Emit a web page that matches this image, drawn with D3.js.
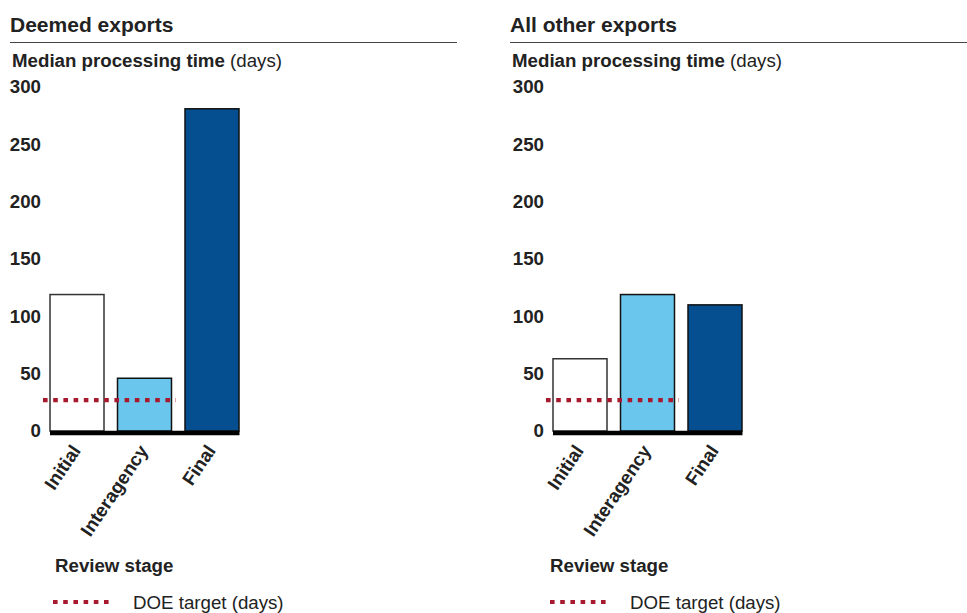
<!DOCTYPE html>
<html>
<head>
<meta charset="utf-8">
<script src="https://cdn.jsdelivr.net/npm/d3@7"></script>
<style>
  html, body { margin: 0; padding: 0; background: #fff; }
  svg { display: block; font-family: "Liberation Sans", Arial, sans-serif; }
</style>
</head>
<body>
<svg id="chart" width="967" height="613"></svg>
<script>
// Review stages and median processing times (days)
const stages = ["Initial", "Interagency", "Final"];
const panelTitles = ["Deemed exports", "All other exports"];
const deemedDays = [119, 46, 281];
const otherDays = [63, 119, 110];
const doeTargetDays = [27, 27];
const yTicks = [0, 50, 100, 150, 200, 250, 300];
const stageColors = ["#ffffff", "#6ac6ec", "#054f91"];
const stageStrokes = ["#333333", "#111111", "#111111"];

const svg = d3.select("#chart");
const textColor = "#222222";
const targetColor = "#a6192e";
const fs = 18.7;

const y = d3.scaleLinear().domain([0, 300]).range([431, 87]);

const panels = [
  { title: panelTitles[0], values: deemedDays, target: doeTargetDays[0], dx: 0, shift: 0, ruleEnd: 457 },
  { title: panelTitles[1], values: otherDays, target: doeTargetDays[1], dx: 500, shift: 3, ruleEnd: 467 }
];

panels.forEach(p => {
  const g = svg.append("g").attr("transform", `translate(${p.dx},0)`);
  const x = d3.scaleBand().domain(stages)
    .range([50 + p.shift, 239 + p.shift]).paddingInner(0.2).paddingOuter(0);

  // Panel heading and rule
  g.append("text").attr("x", 10).attr("y", 32)
    .attr("font-size", 21).attr("font-weight", "bold").attr("fill", textColor)
    .text(p.title);
  g.append("line").attr("x1", 10).attr("x2", p.ruleEnd)
    .attr("y1", 42.5).attr("y2", 42.5).attr("stroke", "#444").attr("stroke-width", 1.2);

  // Axis title
  const at = g.append("text").attr("x", 12).attr("y", 67)
    .attr("font-size", fs).attr("fill", textColor);
  at.append("tspan").attr("font-weight", "bold").text("Median processing time");
  at.append("tspan").text(" (days)");

  // Y axis labels (no axis line)
  const yAxis = d3.axisLeft(y).tickValues(yTicks).tickSize(0).tickPadding(0);
  const ya = g.append("g").attr("transform", `translate(${41 + p.shift},0)`).call(yAxis);
  ya.select(".domain").remove();
  ya.selectAll("text").attr("font-size", fs).attr("font-weight", "bold")
    .attr("fill", textColor).attr("font-family", "Liberation Sans, Arial, sans-serif");

  // Bars
  g.selectAll("rect.bar").data(p.values).enter().append("rect")
    .attr("class", "bar")
    .attr("x", (d, i) => x(stages[i]))
    .attr("y", d => y(d))
    .attr("width", x.bandwidth())
    .attr("height", d => y(0) - y(d))
    .attr("fill", (d, i) => stageColors[i])
    .attr("stroke", (d, i) => stageStrokes[i])
    .attr("stroke-width", 1.5);

  // Baseline
  g.append("line").attr("x1", 50 + p.shift).attr("x2", 239.5 + p.shift)
    .attr("y1", y(0) + 2).attr("y2", y(0) + 2)
    .attr("stroke", "#000").attr("stroke-width", 4.5);

  // DOE target line
  g.append("line").attr("x1", 43 + p.shift).attr("x2", 176 + p.shift)
    .attr("y1", y(p.target)).attr("y2", y(p.target))
    .attr("stroke", targetColor).attr("stroke-width", 4.2)
    .attr("stroke-dasharray", "4.6,5.6");

  // X axis labels, rotated
  const xAxis = d3.axisBottom(x).tickSize(0).tickPadding(0);
  const xa = g.append("g").attr("transform", `translate(-1,${y(0) + 16})`).call(xAxis);
  xa.select(".domain").remove();
  xa.selectAll("text")
    .attr("font-size", fs).attr("font-weight", "bold").attr("fill", textColor)
    .attr("font-family", "Liberation Sans, Arial, sans-serif")
    .attr("text-anchor", "end").attr("dy", "0.35em").attr("y", 0)
    .attr("transform", "rotate(-56)");

  // Legend
  g.append("text").attr("x", 55 + p.shift - (p.shift ? 8 : 0)).attr("y", 572)
    .attr("font-size", fs).attr("font-weight", "bold").attr("fill", textColor)
    .text("Review stage");
  g.append("line").attr("x1", 53 + (p.shift ? -3 : 0)).attr("x2", 113 + (p.shift ? -3 : 0))
    .attr("y1", 602).attr("y2", 602)
    .attr("stroke", targetColor).attr("stroke-width", 4.2)
    .attr("stroke-dasharray", "4.6,5.6");
  g.append("text").attr("x", 133 + (p.shift ? -3 : 0)).attr("y", 608.5)
    .attr("font-size", fs).attr("fill", textColor)
    .text("DOE target (days)");
});
</script>
</body>
</html>
